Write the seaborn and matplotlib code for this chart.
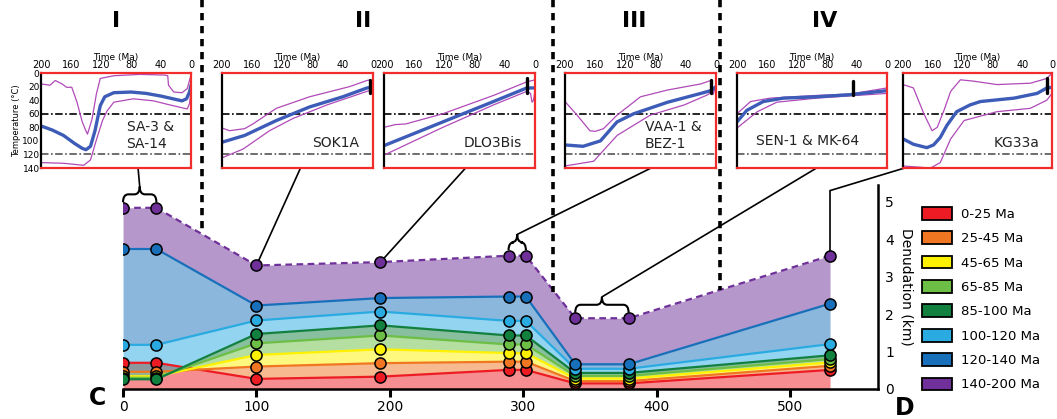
"""
Recria a figura de denudação ao longo do perfil (C-D) com os históricos
térmicos das amostras (I-IV) em painéis acima.
"""

import logging

import matplotlib.pyplot as plt
import seaborn as sns
from matplotlib.lines import Line2D
from matplotlib.patches import ConnectionPatch, Patch, PathPatch
from matplotlib.path import Path

logging.basicConfig(level=logging.INFO, format='%(asctime)s - %(levelname)s - %(message)s')
logger = logging.getLogger(__name__)

# Posição das amostras ao longo do perfil
distancias = [0, 25, 100, 193, 289, 302, 339, 379, 530]

# Denudação acumulada (km) desde cada idade
den_0_25 = [0.70, 0.70, 0.27, 0.33, 0.51, 0.51, 0.15, 0.15, 0.51]
den_25_45 = [0.46, 0.46, 0.60, 0.69, 0.73, 0.73, 0.21, 0.21, 0.62]
den_45_65 = [0.34, 0.34, 0.91, 1.06, 0.96, 0.96, 0.28, 0.28, 0.71]
den_65_85 = [0.30, 0.30, 1.22, 1.43, 1.19, 1.19, 0.35, 0.35, 0.80]
den_85_100 = [0.26, 0.26, 1.47, 1.70, 1.43, 1.43, 0.43, 0.43, 0.90]
den_100_120 = [1.18, 1.18, 1.83, 2.07, 1.82, 1.82, 0.54, 0.54, 1.20]
den_120_140 = [3.74, 3.74, 2.23, 2.43, 2.47, 2.47, 0.66, 0.66, 2.28]
den_140_200 = [4.84, 4.84, 3.30, 3.39, 3.56, 3.56, 1.89, 1.89, 3.56]

faixas = ['0-25 Ma', '25-45 Ma', '45-65 Ma', '65-85 Ma',
          '85-100 Ma', '100-120 Ma', '120-140 Ma', '140-200 Ma']
cores = ['#ed1c24', '#f07622', '#fff200', '#6dbe45',
         '#12803e', '#29abe2', '#1870bb', '#6f3199']

# Históricos térmicos: (tempo Ma, temperatura °C)
sa_melhor = [(200, 78), (185, 84), (170, 92), (155, 104), (145, 111), (140, 113), (134, 108),
             (128, 85), (121, 48), (115, 35), (103, 29), (80, 28), (60, 30), (40, 34),
             (20, 39), (12, 41), (6, 38), (2, 28), (0, 18)]
sa_sup = [(200, 16), (188, 18), (181, 11), (172, 16), (166, 21), (159, 21), (152, 43),
          (145, 72), (141, 83), (138, 90), (132, 68), (126, 30), (121, 8), (103, 4), (68, 2),
          (35, 3), (31, 4), (30, 18), (23, 28), (12, 29), (5, 23), (0, 3)]
sa_inf = [(200, 132), (170, 133), (143, 136), (134, 128), (126, 98), (118, 70), (112, 56),
          (103, 43), (77, 38), (50, 41), (32, 46), (5, 53), (2, 45), (0, 28)]

sok_melhor = [(200, 102), (170, 92), (128, 70), (84, 50), (40, 35), (8, 22), (0, 21)]
sok_sup = [(200, 81), (190, 85), (170, 82), (159, 75), (128, 52), (84, 35), (31, 20),
           (8, 11), (4, 10), (2, 16), (0, 22)]
sok_inf = [(200, 125), (172, 112), (137, 85), (106, 67), (61, 47), (8, 27), (0, 25)]
sok_barra = (4, 11, 30)

dlo_melhor = [(200, 107), (122, 72), (55, 42), (11, 22), (0, 22)]
dlo_sup = [(200, 80), (185, 76), (171, 75), (122, 60), (55, 33), (11, 13), (0, 10)]
dlo_inf = [(200, 121), (122, 80), (55, 47), (11, 27), (6, 30), (4, 43), (2, 40), (0, 25)]
dlo_barra = (11, 8, 30)

vaa_melhor = [(200, 106), (176, 108), (153, 100), (131, 72), (109, 60), (64, 43),
              (20, 30), (7, 26), (0, 20)]
vaa_sup = [(200, 42), (184, 62), (167, 85), (160, 86), (149, 82), (131, 62), (100, 35),
           (64, 25), (20, 16), (7, 11), (4, 32), (2, 25), (0, 20)]
vaa_inf = [(200, 137), (162, 130), (131, 92), (87, 62), (42, 47), (11, 32), (0, 22)]
vaa_barra = (7, 10, 30)

sen_melhor = [(200, 72), (187, 55), (165, 42), (138, 37), (94, 35), (50, 32), (0, 26)]
sen_sup = [(200, 60), (182, 42), (156, 37), (94, 33), (50, 31), (0, 22)]
sen_inf = [(200, 81), (173, 57), (147, 43), (94, 37), (0, 30)]
sen_barra = (45, 12, 33)

kg_melhor = [(200, 97), (186, 105), (168, 110), (159, 106), (150, 95), (141, 77), (128, 57),
             (110, 47), (96, 42), (51, 37), (20, 30), (7, 22), (0, 21)]
kg_sup = [(200, 17), (186, 22), (172, 60), (161, 85), (154, 80), (145, 55), (136, 27),
          (123, 10), (105, 12), (74, 17), (29, 15), (7, 8), (0, 0)]
kg_inf = [(200, 137), (163, 140), (150, 132), (136, 97), (118, 70), (74, 57), (29, 52),
          (7, 40), (0, 30)]
kg_barra = (7, 8, 30)

amostras = ['SA-3 &\nSA-14', 'SOK1A', 'DLO3Bis', 'VAA-1 &\nBEZ-1', 'SEN-1 & MK-64', 'KG33a']
setores = ['I', 'II', 'III', 'IV']

AZUL = '#3d5cb8'
MAGENTA = '#b04ab8'
VERMELHO = '#f22b2b'

sns.set_style('ticks', rc={'axes.edgecolor': 'black', 'text.color': 'black',
                           'xtick.color': 'black', 'ytick.color': 'black',
                           'axes.labelcolor': 'black'})
plt.rcParams['font.family'] = ['DejaVu Sans']


def desenhar_perfil(fig):
    """Área empilhada de denudação ao longo do perfil."""
    ax = fig.add_axes([0.1164, 0.0716, 0.7143, 0.4869])
    series = [den_0_25, den_25_45, den_45_65, den_65_85,
              den_85_100, den_100_120, den_120_140, den_140_200]

    base = [0] * len(distancias)
    for serie, cor in zip(series, cores):
        ax.fill_between(distancias, base, serie, color=cor, alpha=0.5, lw=0, zorder=1)
        base = serie

    for i, (serie, cor) in enumerate(zip(series, cores)):
        estilo = (0, (3, 2)) if i == len(series) - 1 else '-'
        sns.lineplot(x=distancias, y=serie, color=cor, lw=1.6, linestyle=estilo,
                     marker='o', markersize=8, markeredgecolor='black',
                     markeredgewidth=1.1, sort=False, estimator=None, ax=ax, zorder=3)

    ax.set_xlim(0, 566)
    ax.set_ylim(0, 5.45)
    ax.set_xticks([0, 100, 200, 300, 400, 500])
    ax.set_yticks([0, 1, 2, 3, 4, 5])
    ax.yaxis.tick_right()
    ax.yaxis.set_label_position('right')
    sns.despine(ax=ax, left=True, top=True, right=False)
    ax.spines['bottom'].set_linewidth(1.8)
    ax.spines['right'].set_linewidth(1.8)
    ax.tick_params(axis='x', length=6, width=2.2, labelsize=10, pad=2)
    ax.tick_params(axis='y', length=0, labelsize=10, pad=5)
    ax.set_ylabel('Denudation (km)', rotation=270, fontsize=10, labelpad=14)
    return ax


def desenhar_inset(fig, pos, melhor, sup, inf, barra, nome, texto_xy, mostrar_y):
    """Painel com o histórico tempo-temperatura de uma amostra."""
    axi = fig.add_axes(pos)
    axi.axhline(60, color='black', lw=1.2, ls=(0, (4.5, 1.5, 1, 1.5)), zorder=1)
    axi.axhline(120, color='#555555', lw=1.2, ls=(0, (4.5, 1.5, 1, 1.5)), zorder=1)

    for curva, cor, lw in [(sup, MAGENTA, 0.9), (inf, MAGENTA, 0.9), (melhor, AZUL, 2.4)]:
        tempo = [p[0] for p in curva]
        temp = [p[1] for p in curva]
        sns.lineplot(x=tempo, y=temp, color=cor, lw=lw, sort=False, estimator=None, ax=axi)

    if barra is not None:
        axi.plot([barra[0], barra[0]], [barra[1], barra[2]], color='black', lw=2.4)

    axi.set_xlim(200, 0)
    axi.set_ylim(140, 0)
    axi.xaxis.tick_top()
    axi.xaxis.set_label_position('top')
    axi.set_xticks([200, 160, 120, 80, 40, 0])
    axi.set_xlabel('Time (Ma)', fontsize=6.5, labelpad=0.5)
    axi.tick_params(axis='x', length=0, labelsize=7, pad=2)
    if mostrar_y:
        axi.set_yticks(range(0, 141, 20))
        axi.tick_params(axis='y', length=0, labelsize=6.5, pad=1)
        axi.set_ylabel('Temperature (°C)', fontsize=6, labelpad=1)
    else:
        axi.set_yticks([])

    for lado in ['top', 'right', 'bottom']:
        axi.spines[lado].set_color(VERMELHO)
        axi.spines[lado].set_linewidth(1.6)
    axi.spines['left'].set_color('black')
    axi.spines['left'].set_linewidth(1.6)

    axi.text(texto_xy[0], texto_xy[1], nome, transform=axi.transAxes, fontsize=10,
             ha=texto_xy[2], va='center', linespacing=1.25, color='#222222')
    return axi


def desenhar_chave(ax, x0, x1, y):
    """Chave sobre duas amostras; devolve a ponta (x, y)."""
    yb = y + 0.15
    h = 0.42
    ym = yb + h / 2
    xm = (x0 + x1) / 2
    d = 4
    verts = [(x0, yb), (x0, ym), (x0 + d, ym), (xm - d, ym), (xm, ym), (xm, yb + h),
             (xm, ym), (xm + d, ym), (x1 - d, ym), (x1, ym), (x1, yb)]
    codes = [Path.MOVETO, Path.CURVE3, Path.CURVE3, Path.LINETO, Path.CURVE3, Path.CURVE3,
             Path.CURVE3, Path.CURVE3, Path.LINETO, Path.CURVE3, Path.CURVE3]
    ax.add_patch(PathPatch(Path(verts, codes), fill=False, lw=1.5, color='black',
                           clip_on=False, zorder=4))
    return xm, yb + h


def ligar(ax, axi, xy, frac):
    """Linha da amostra até a base do painel."""
    con = ConnectionPatch(xyA=xy, coordsA=ax.transData, xyB=(frac, 0),
                          coordsB=axi.transAxes, color='black', lw=1.2, zorder=1.8)
    con.set_clip_on(False)
    ax.add_artist(con)


def main():
    logger.info("Gerando figura...")
    fig = plt.figure(figsize=(10.57, 4.19), dpi=100)
    ax = desenhar_perfil(fig)

    topo = den_140_200
    larg = 0.1419
    paineis = [
        ([0.0388, 0.599, larg, 0.2267], sa_melhor, sa_sup, sa_inf, None, (0.57, 0.34, 'left'), True),
        ([0.2100, 0.599, 0.1429, 0.2267], sok_melhor, sok_sup, sok_inf, sok_barra, (0.75, 0.26, 'center'), False),
        ([0.3633, 0.599, 0.1429, 0.2267], dlo_melhor, dlo_sup, dlo_inf, dlo_barra, (0.72, 0.26, 'center'), False),
        ([0.5345, 0.599, 0.1429, 0.2267], vaa_melhor, vaa_sup, vaa_inf, vaa_barra, (0.53, 0.34, 'left'), False),
        ([0.6973, 0.599, larg, 0.2267], sen_melhor, sen_sup, sen_inf, sen_barra, (0.47, 0.28, 'center'), False),
        ([0.8543, 0.599, 0.1410, 0.2267], kg_melhor, kg_sup, kg_inf, kg_barra, (0.76, 0.26, 'center'), False),
    ]
    insets = []
    for (pos, melhor, sup, inf, barra, txt, mostrar_y), nome in zip(paineis, amostras):
        insets.append(desenhar_inset(fig, pos, melhor, sup, inf, barra, nome, txt, mostrar_y))

    # Ligações entre perfil e painéis
    ligar(ax, insets[0], desenhar_chave(ax, distancias[0], distancias[1], topo[0]), 0.647)
    ligar(ax, insets[1], (distancias[2], topo[2]), 0.52)
    ligar(ax, insets[2], (distancias[3], topo[3]), 0.54)
    ligar(ax, insets[3], desenhar_chave(ax, distancias[4], distancias[5], topo[4]), 0.57)
    ligar(ax, insets[4], desenhar_chave(ax, distancias[6], distancias[7], topo[6]), 0.53)
    ax.plot([distancias[8], distancias[8]], [topo[8], 5.30], color='black', lw=1.2,
            clip_on=False, zorder=1.8)
    ligar(ax, insets[5], (distancias[8], 5.30), 0.01)

    # Separadores dos setores
    for xpx, ypx in [(202, 232), (553, 292), (720, 290)]:
        fig.add_artist(Line2D([xpx / 1057, xpx / 1057], [1, 1 - ypx / 419],
                              transform=fig.transFigure, color='black', lw=2.6,
                              ls=(0, (2, 1.6))))
    for xpx, rotulo in zip([116, 363, 634, 825], setores):
        fig.text(xpx / 1057, 1 - 21 / 419, rotulo, ha='center', va='center',
                 fontsize=16, fontweight='bold')

    fig.text(97 / 1057, 1 - 398 / 419, 'C', ha='center', va='center', fontsize=17, fontweight='bold')
    fig.text(905 / 1057, 1 - 408 / 419, 'D', ha='center', va='center', fontsize=17, fontweight='bold')

    # Legenda
    alcas = [Patch(facecolor=c, edgecolor='black', lw=1.3, label=f) for c, f in zip(cores, faixas)]
    fig.legend(handles=alcas, loc='upper left', bbox_to_anchor=(922 / 1057, 1 - 207 / 419),
               frameon=False, fontsize=9.5, handlelength=2.3, handleheight=1.1,
               handletextpad=0.65, labelspacing=0.8, borderpad=0, borderaxespad=0)

    fig.savefig('out.png', dpi=100)
    logger.info("Figura salva em out.png")


if __name__ == '__main__':
    main()
